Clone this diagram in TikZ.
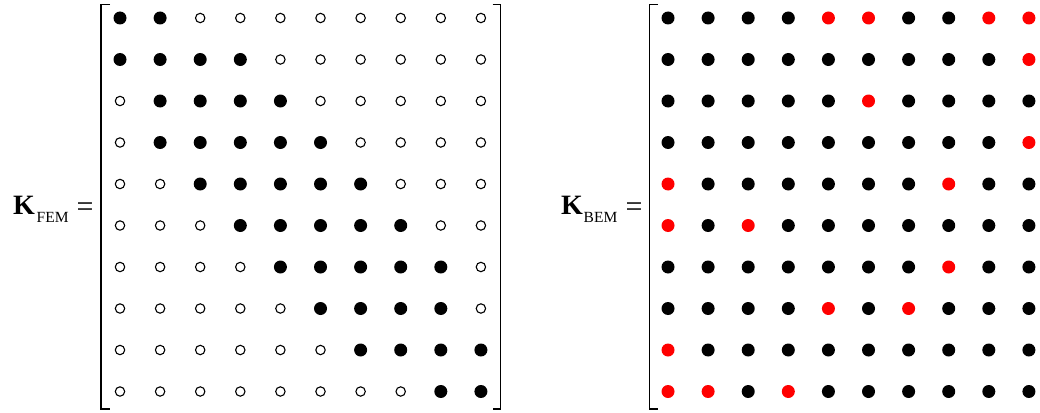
\documentclass[tikz,border=0pt]{standalone}
\usepackage{fontspec}
\setmainfont{Liberation Serif}
\begin{document}
\tikzset{
  fulldot/.style={fill=black},
  reddot/.style={fill=red},
  opendot/.style={draw=black, line width=1.1pt},
  bracket/.style={draw=black, line width=1.4pt},
  bigk/.style={anchor=base west, inner sep=0pt, font=\fontsize{28}{30}\selectfont\bfseries},
  subtxt/.style={anchor=base west, inner sep=0pt, font=\fontsize{15.5}{18}\selectfont},
  eqtxt/.style={anchor=center, inner sep=0pt, font=\fontsize{30}{30}\selectfont}
}
\expandafter\def\csname red-1-5\endcsname{}
\expandafter\def\csname red-1-6\endcsname{}
\expandafter\def\csname red-1-9\endcsname{}
\expandafter\def\csname red-1-10\endcsname{}
\expandafter\def\csname red-2-10\endcsname{}
\expandafter\def\csname red-3-6\endcsname{}
\expandafter\def\csname red-4-10\endcsname{}
\expandafter\def\csname red-5-1\endcsname{}
\expandafter\def\csname red-5-8\endcsname{}
\expandafter\def\csname red-6-1\endcsname{}
\expandafter\def\csname red-6-3\endcsname{}
\expandafter\def\csname red-7-8\endcsname{}
\expandafter\def\csname red-8-5\endcsname{}
\expandafter\def\csname red-8-7\endcsname{}
\expandafter\def\csname red-9-1\endcsname{}
\expandafter\def\csname red-10-1\endcsname{}
\expandafter\def\csname red-10-2\endcsname{}
\expandafter\def\csname red-10-4\endcsname{}
\begin{tikzpicture}[x=1pt,y=-1pt]
\useasboundingbox (0,0) rectangle (1040,412);
\clip (0,0) rectangle (1040,412);
% labels
\node[bigk] (kfem) at (13,214) {K};
\node[subtxt] (fem) at (36.5,222) {FEM};
\node[eqtxt] (eqfem) at (85,210) {=};
\node[bigk] (kbem) at (561,214) {K};
\node[subtxt] (bem) at (583.5,222) {BEM};
\node[eqtxt] (eqbem) at (634,210) {=};
% brackets
\draw[bracket] (110,4.7) -| (101,409) -- (110,409);
\draw[bracket] (492.7,4.7) -| (500.5,409) -- (492.7,409);
\draw[bracket] (658,4.7) -| (649.3,409) -- (658,409);
\draw[bracket] (1040.7,4.7) -| (1048.5,409) -- (1040.7,409);
% FEM matrix
\foreach \r/\a/\b in {1/1/2,2/1/4,3/2/5,4/2/6,5/3/7,6/4/8,7/5/9,8/6/9,9/7/10,10/9/10}{
  \foreach \c in {1,...,10}{
    \pgfmathsetmacro\xx{120+40.1*(\c-1)}
    \pgfmathsetmacro\yy{18+41.5*(\r-1)}
    \ifnum\c<\a\relax
      \draw[opendot] (\xx,\yy) circle[radius=4.7pt];
    \else\ifnum\c>\b\relax
      \draw[opendot] (\xx,\yy) circle[radius=4.7pt];
    \else
      \fill[fulldot] (\xx,\yy) circle[radius=6.5pt];
    \fi\fi
  }
}
% BEM matrix
\foreach \r in {1,...,10}{
  \foreach \c in {1,...,10}{
    \pgfmathsetmacro\xx{668+40.1*(\c-1)}
    \pgfmathsetmacro\yy{18+41.5*(\r-1)}
    \ifcsname red-\r-\c\endcsname
      \fill[reddot] (\xx,\yy) circle[radius=6.5pt];
    \else
      \fill[fulldot] (\xx,\yy) circle[radius=6.5pt];
    \fi
  }
}
\end{tikzpicture}
\end{document}
